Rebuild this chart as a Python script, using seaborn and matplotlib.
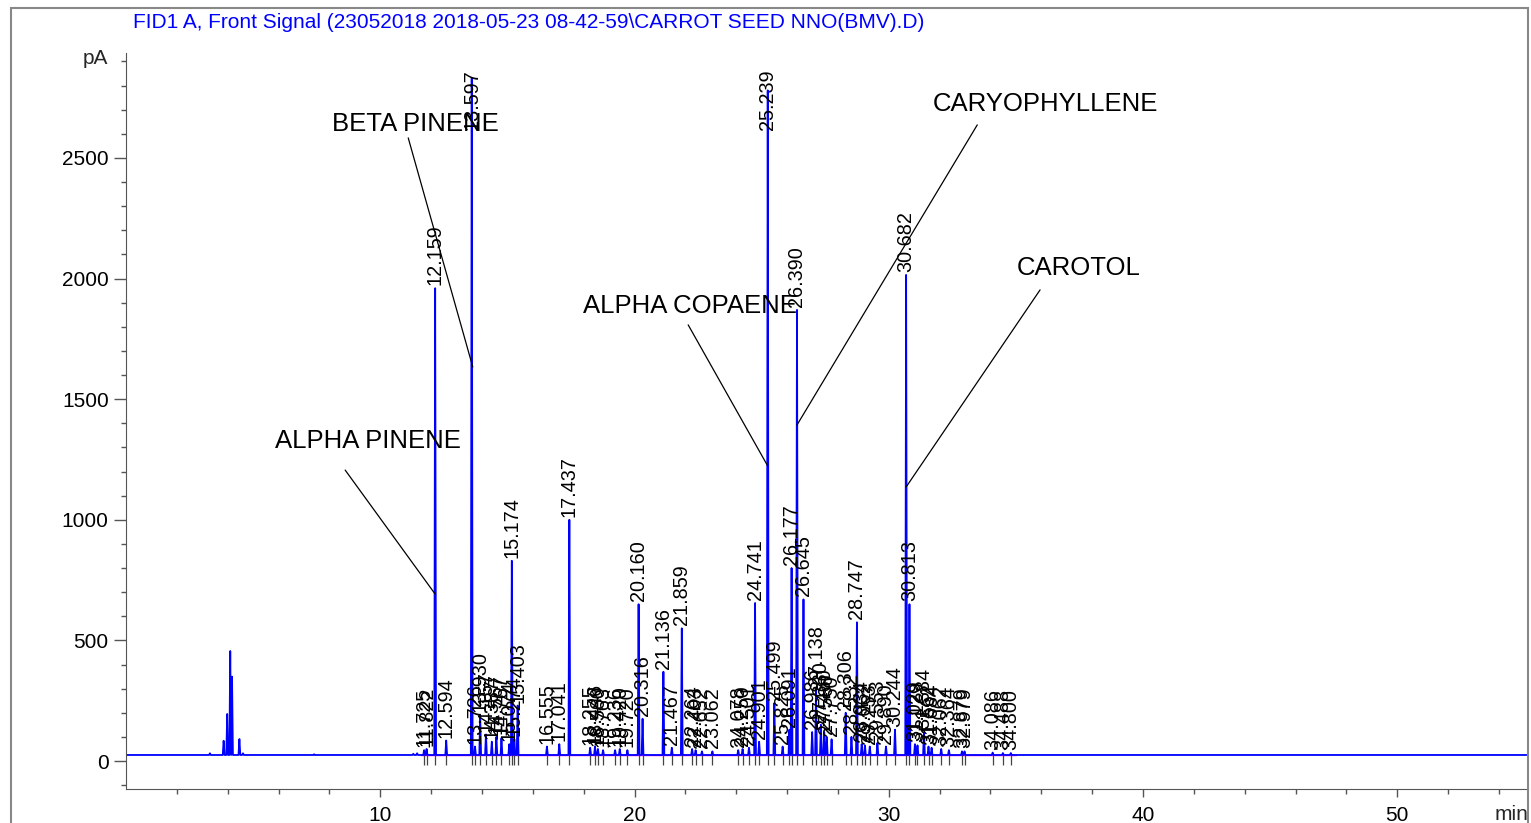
import matplotlib
matplotlib.use("Agg")
import matplotlib.pyplot as plt
import seaborn as sns
import pandas as pd
from matplotlib.patches import Rectangle

# small unlabeled peaks (solvent region etc.)
minor_times = [3.30, 3.84, 3.98, 4.10, 4.17, 4.46, 4.60, 7.40, 11.30, 11.45]
minor_heights = [32, 84, 195, 456, 350, 91, 32, 28, 30, 32]

# integrated peaks: retention time (min) and apex (pA)
peak_times = [11.725, 11.822, 12.159, 12.594, 13.597, 13.726, 13.930, 14.157, 14.387,
              14.567, 14.767, 15.074, 15.174, 15.274, 15.403, 16.555, 17.041, 17.437,
              18.255, 18.446, 18.560, 18.763, 19.236, 19.420, 19.720, 20.160, 20.316,
              21.136, 21.467, 21.859, 22.264, 22.403, 22.652, 23.062, 24.078, 24.250,
              24.501, 24.741, 24.901, 25.239, 25.499, 25.825, 26.091, 26.177, 26.390,
              26.645, 26.986, 27.138, 27.330, 27.460, 27.560, 27.750, 28.306, 28.532,
              28.747, 28.934, 29.062, 29.253, 29.553, 29.890, 30.244, 30.682, 30.813,
              31.029, 31.129, 31.384, 31.562, 31.684, 32.062, 32.364, 32.879, 32.979,
              34.086, 34.488, 34.800]
peak_heights = [45, 50, 1960, 85, 2830, 60, 190, 110, 80,
                100, 95, 70, 830, 90, 230, 60, 70, 1000,
                55, 60, 50, 45, 45, 50, 45, 650, 175,
                370, 55, 550, 50, 45, 40, 40, 45, 50,
                55, 655, 80, 2780, 240, 60, 130, 800, 1870,
                670, 120, 300, 150, 120, 100, 90, 200, 100,
                575, 70, 65, 60, 75, 60, 130, 2015, 650,
                70, 65, 120, 60, 55, 50, 45, 40, 40,
                35, 33, 33]

baseline = 25
run_end = 55.14

# compound names: text centre, start of leader line, point on the peak
compounds = ["ALPHA PINENE", "BETA PINENE", "ALPHA COPAENE", "CARYOPHYLLENE", "CAROTOL"]
name_xy = [(9.53, 1327), (11.38, 2641), (22.19, 1886), (36.15, 2724), (37.45, 2044)]
line_from = [(8.62, 1206), (11.10, 2583), (22.11, 1808), (33.48, 2637), (35.95, 1953)]
line_to = [(12.159, 692), (13.64, 1633), (25.239, 1223), (26.390, 1393), (30.682, 1136)]

title = "FID1 A, Front Signal (23052018 2018-05-23 08-42-59\\CARROT SEED NNO(BMV).D)"

# build the trace from the peak table
half_w = 0.035
apexes = sorted(list(zip(minor_times, minor_heights)) + list(zip(peak_times, peak_heights)))
xs, ys = [0.0], [baseline]
for t, h in apexes:
    xs += [t - half_w, t, t + half_w]
    ys += [baseline, h, baseline]
xs.append(run_end)
ys.append(baseline)
trace = pd.DataFrame({"time": xs, "signal": ys})

sns.set_style("ticks")
plt.rcParams["font.family"] = ["Liberation Sans", "DejaVu Sans"]

fig = plt.figure(figsize=(15.31, 8.23), dpi=100)
ax = fig.add_axes([126 / 1531, 1 - 789 / 823, (1528 - 126) / 1531, (789 - 53) / 823])

ax.plot([11.6, 35.0], [baseline - 1, baseline - 1], color="magenta", lw=1.0, zorder=1)
sns.lineplot(data=trace, x="time", y="signal", sort=False, estimator=None,
             color="#0000ff", lw=1.3, ax=ax, zorder=2)

# integration marks and retention time labels
ax.vlines(peak_times, -15, baseline, color="#444444", lw=0.9, zorder=1)
for t, h in zip(peak_times, peak_heights):
    ax.text(t, min(h + 12, 2615), f"{t:.3f}", rotation=90, ha="center", va="bottom",
            fontsize=14.3, color="black", zorder=3)

for name, (tx, ty), (x0, y0), (x1, y1) in zip(compounds, name_xy, line_from, line_to):
    ax.plot([x0, x1], [y0, y1], color="black", lw=0.9, zorder=3)
    ax.text(tx, ty, name, ha="center", va="center", fontsize=18.5, color="black", zorder=4)

ax.set_xlim(0, run_end)
ax.set_ylim(-116, 2935)
ax.set_xticks([10, 20, 30, 40, 50])
ax.set_xticks(range(2, 56, 2), minor=True)
ax.set_yticks([0, 500, 1000, 1500, 2000, 2500])
ax.set_yticks(range(-100, 2901, 100), minor=True)
ax.tick_params(axis="x", which="major", length=6, width=1, labelsize=15, pad=6)
ax.tick_params(axis="x", which="minor", length=3.5, width=1)
ax.tick_params(axis="y", which="major", length=8.5, width=1, labelsize=15, pad=4)
ax.tick_params(axis="y", which="minor", length=3.5, width=1)
ax.set_xlabel("")
ax.set_ylabel("")
sns.despine(ax=ax)
for side in ["left", "bottom"]:
    ax.spines[side].set_color("#555555")
ax.tick_params(colors="#555555", which="both", labelcolor="black")

ax.text(-0.013, 1 - 5 / 736, "pA", transform=ax.transAxes, ha="right", va="center", fontsize=15)
ax.text(1.0, -26 / 736, "min", transform=ax.transAxes, ha="right", va="center", fontsize=15)

fig.text(133 / 1531, 1 - 22 / 823, title, ha="left", va="center", fontsize=15, color="#0000ff")
fig.patches.append(Rectangle((11 / 1531, -0.01), (1528 - 11) / 1531, 1.01 - 8 / 823,
                             transform=fig.transFigure, fill=False, edgecolor="#888888", lw=1.5))

fig.savefig("out.png", dpi=100, facecolor="white")
